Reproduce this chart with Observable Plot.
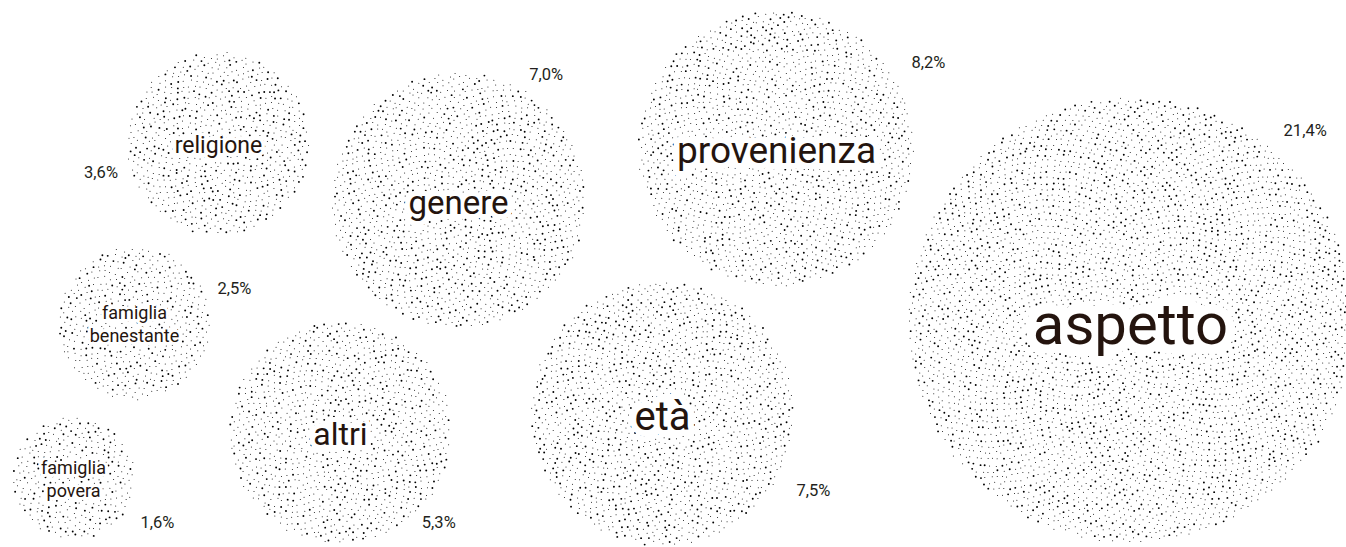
<!DOCTYPE html>
<html><head><meta charset="utf-8">
<script src="https://cdn.jsdelivr.net/npm/d3@7"></script>
<script src="https://cdn.jsdelivr.net/npm/@observablehq/plot@0.6"></script>
<style>body{margin:0;background:#fff} #chart svg{display:block;background:#fff}</style>
</head><body><div id="chart"></div>
<script>
// Data
const categories = ["religione","genere","provenienza","aspetto","famiglia\nbenestante","altri","età","famiglia\npovera"];
const values = [3.6, 7.0, 8.2, 21.4, 2.5, 5.3, 7.5, 1.6];
const valueLabels = ["3,6%","7,0%","8,2%","21,4%","2,5%","5,3%","7,5%","1,6%"];

// Layout (bubble placement, label placement, label sizes)
const centerX = [218, 458, 776, 1130, 134, 340, 662, 73];
const centerY = [143, 200, 148, 320, 323, 432, 413, 478];
const labelAngle = [166, -55, -29.5, -47.4, -19.3, 42.6, 27, 27.6];
const labelGap = [30, 26, 37, 36, 30, 23, 38, 34];
const labelSize = [23, 33, 37, 58, 18, 32, 40, 18];

const K = 48;           // px of radius per sqrt(percent)
const AREA_PER_DOT = 34; // stipple density

const items = categories.map((c, i) => ({
  name: c, value: values[i], label: valueLabels[i],
  cx: centerX[i], cy: centerY[i], R: K * Math.sqrt(values[i]),
  angle: labelAngle[i] * Math.PI / 180, gap: labelGap[i], size: labelSize[i]
}));

// deterministic stipple texture (golden-angle fill, count proportional to value)
function hash(n) { const s = Math.sin(n * 127.1 + 311.7) * 43758.5453; return s - Math.floor(s); }
const dots = [];
items.forEach((d, i) => {
  const n = Math.round(Math.PI * d.R * d.R / AREA_PER_DOT);
  for (let j = 0; j < n; j++) {
    const rr = d.R * Math.sqrt((j + 0.5) / n);
    const th = j * 2.399963229728653;
    const jx = (hash(j * 3 + i * 10007) - 0.5) * 2.8;
    const jy = (hash(j * 3 + 1 + i * 10007) - 0.5) * 2.8;
    const big = hash(j * 3 + 2 + i * 10007) < 0.3;
    dots.push({x: d.cx + rr * Math.cos(th) + jx, y: d.cy + rr * Math.sin(th) + jy, r: big ? 0.95 : 0.5});
  }
});

const nameMarks = items.map(d => Plot.text([d], {
  x: "cx", y: "cy", text: "name",
  fontSize: d.size, fontFamily: "Roboto", fill: "#24140e",
  stroke: "white", strokeWidth: Math.max(6, d.size * 0.32), strokeLinejoin: "round",
  lineHeight: 1.25, textAnchor: "middle"
}));

const chart = Plot.plot({
  width: 1346, height: 547, margin: 0,
  x: {type: "identity", axis: null},
  y: {type: "identity", axis: null},
  r: {type: "identity"},
  style: {background: "#fff"},
  marks: [
    Plot.dot(dots, {x: "x", y: "y", r: "r", fill: "#000", stroke: null}),
    ...nameMarks,
    Plot.text(items, {
      x: d => d.cx + (d.R + d.gap) * Math.cos(d.angle),
      y: d => d.cy + (d.R + d.gap) * Math.sin(d.angle),
      text: "label", fontSize: 16.5, fontFamily: "Roboto", fill: "#231f20", textAnchor: "middle"
    })
  ]
});
document.getElementById("chart").append(chart);
</script>
</body></html>
